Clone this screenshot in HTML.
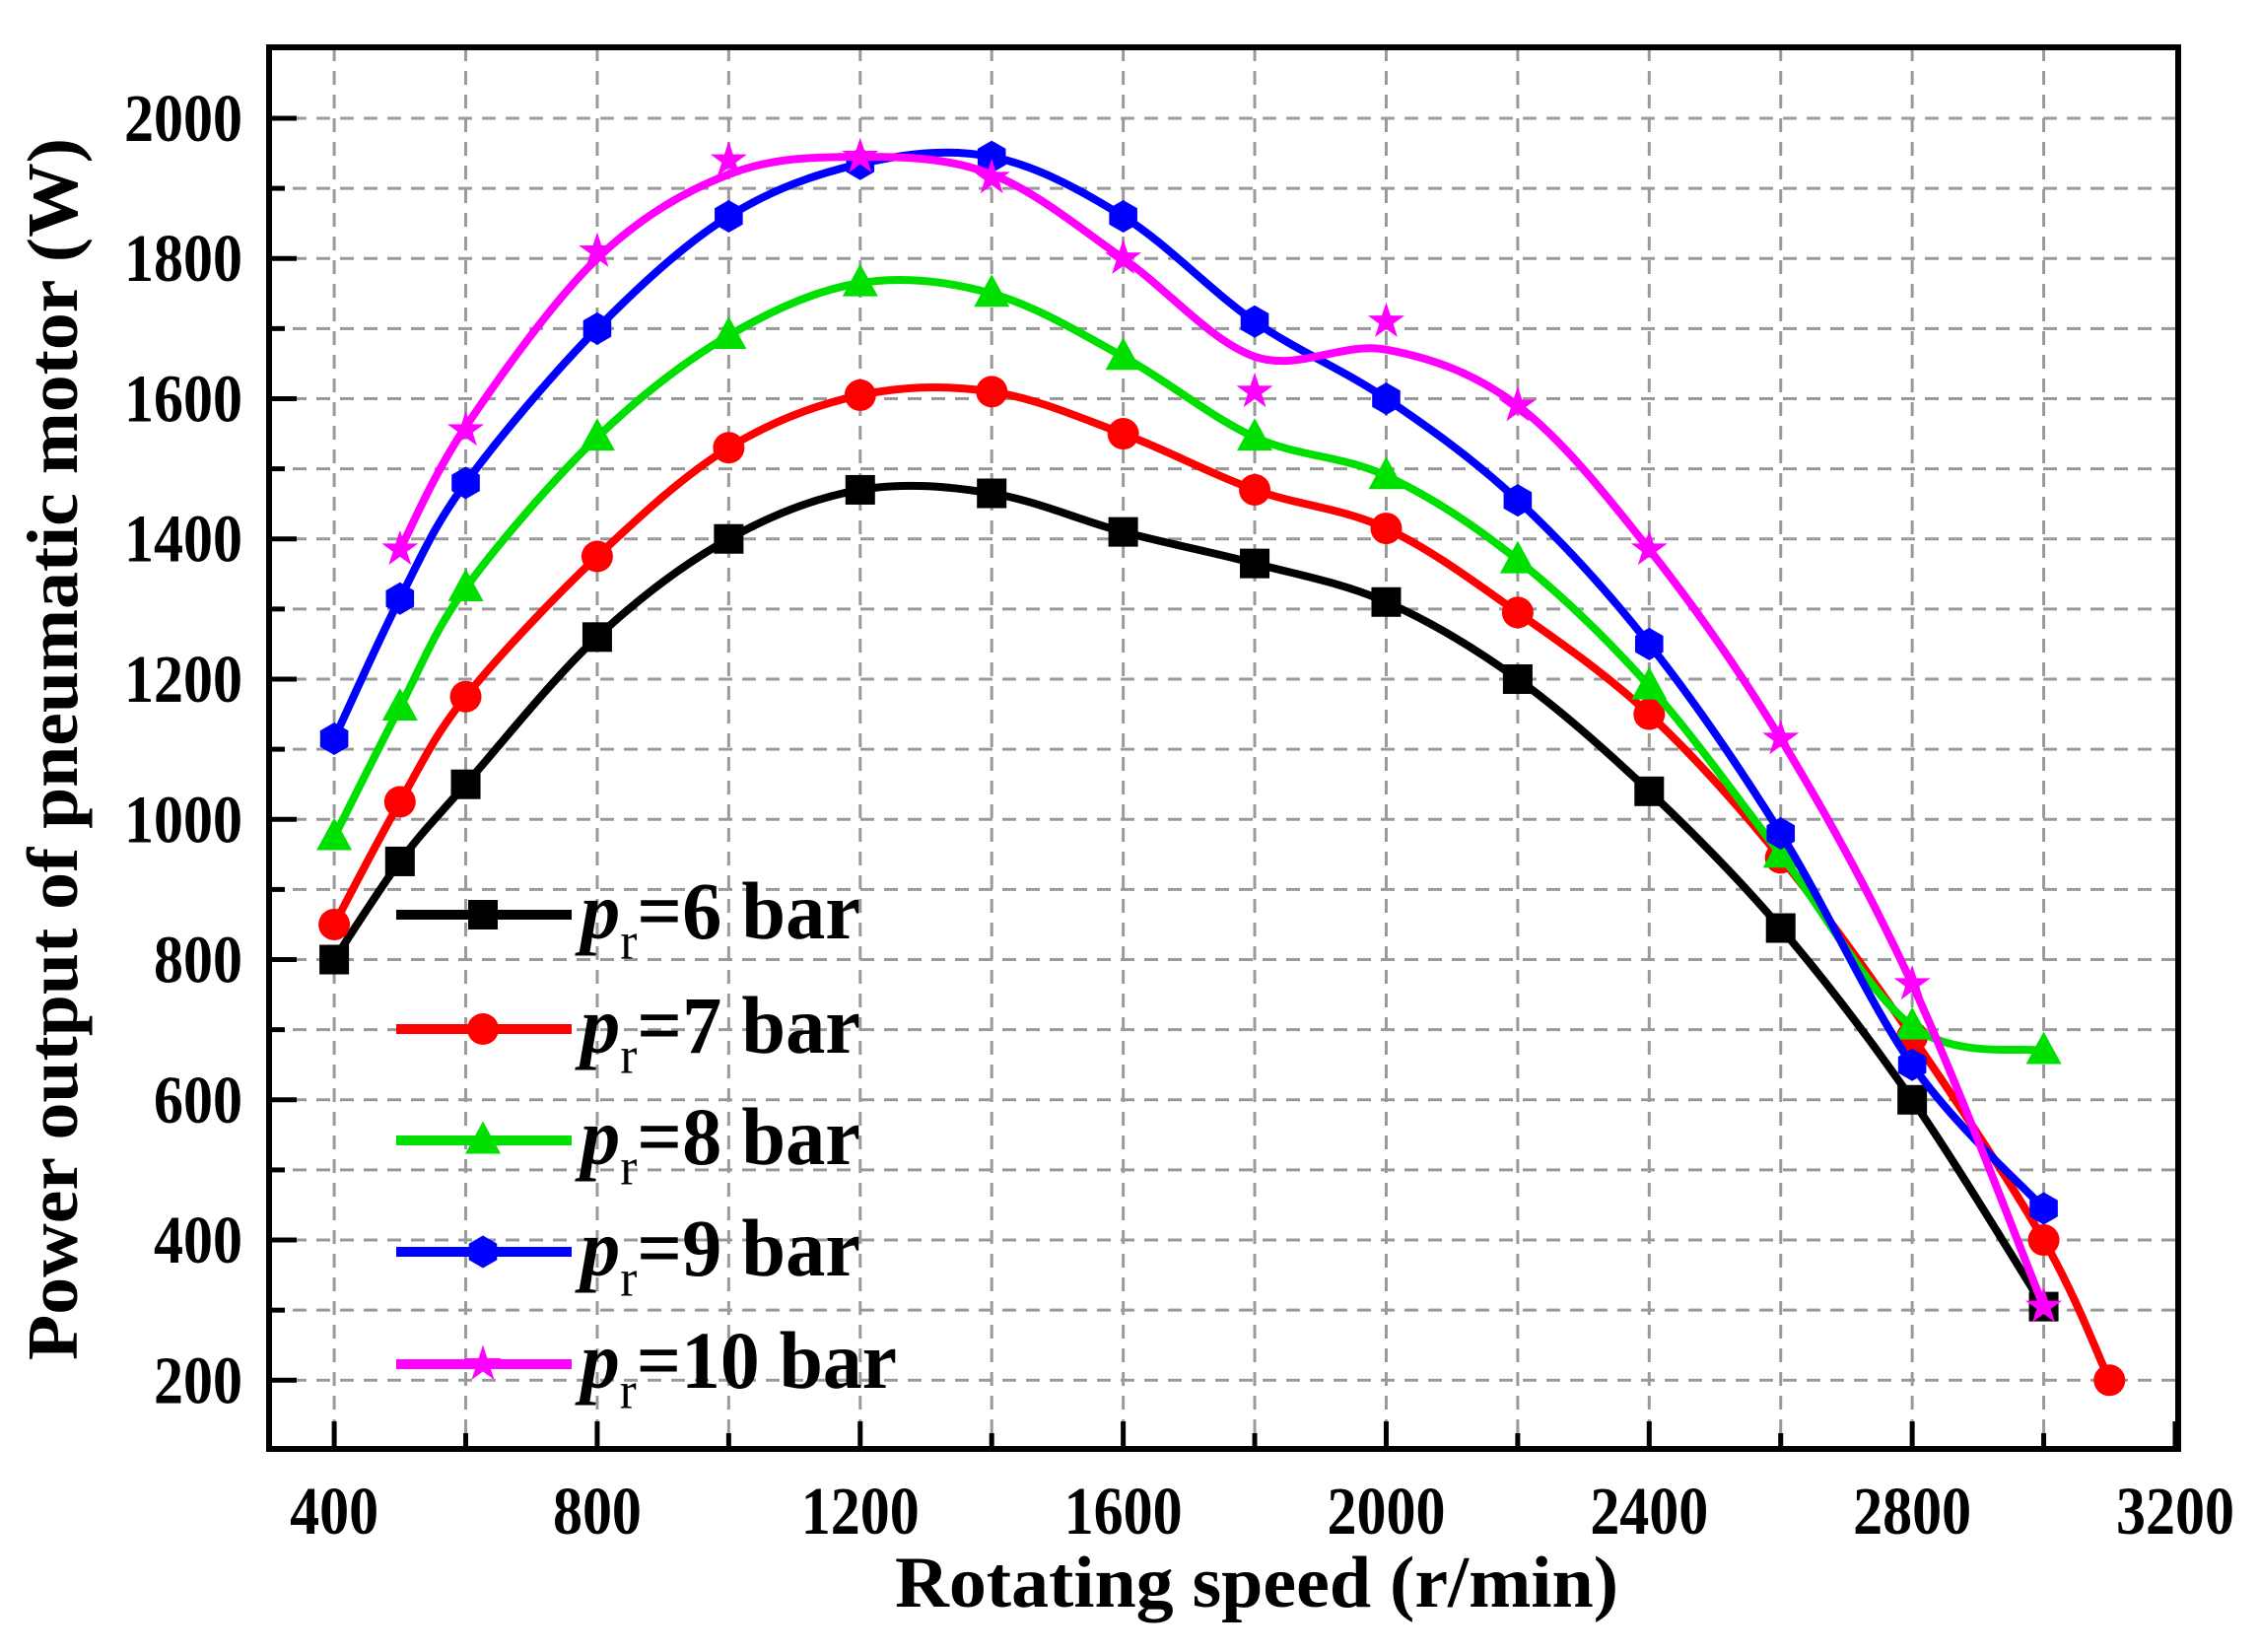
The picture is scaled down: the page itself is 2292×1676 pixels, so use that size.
<!DOCTYPE html>
<html><head><meta charset="utf-8">
<style>html,body{margin:0;padding:0;background:#fff;}svg{display:block;}</style>
</head><body>
<svg id="s" xmlns="http://www.w3.org/2000/svg" width="2292" height="1676" viewBox="0 0 2292 1676" font-family="'Liberation Serif', serif" font-weight="bold">
<rect width="2292" height="1676" fill="#fff"/>
<g id="grid"></g>
<g id="curves"></g>
<g id="ticks"></g>
<rect x="273" y="48" width="1937" height="1422" fill="none" stroke="#000" stroke-width="6"/>
<g id="labels" font-size="60"></g>
<text x="0" y="0" font-size="66" text-anchor="middle" transform="translate(1275,1630) scale(1,1.12)" textLength="734" lengthAdjust="spacingAndGlyphs">Rotating speed (r/min)</text>
<text x="0" y="0" font-size="66" text-anchor="middle" transform="translate(78,760) rotate(-90) scale(1,1.1)" textLength="1240" lengthAdjust="spacingAndGlyphs">Power output of pneumatic motor (W)</text>
<g id="legend"></g>
</svg>
<script>
var NS="http://www.w3.org/2000/svg";
function X(v){return 339.1+(v-400)*0.6671;}
function Y(v){return 1400.3-(v-200)*0.7113;}
function el(p,t,a,txt){var e=document.createElementNS(NS,t);for(var k in a)e.setAttribute(k,a[k]);if(txt!==undefined)e.textContent=txt;document.getElementById(p).appendChild(e);return e;}
// grid
for(var v=400;v<=3000;v+=200){el('grid','line',{x1:X(v),x2:X(v),y1:48,y2:1470,stroke:'#9a9a9a','stroke-width':3,'stroke-dasharray':'14 10'});}
for(var v=200;v<=2000;v+=100){el('grid','line',{x1:273,x2:2210,y1:Y(v),y2:Y(v),stroke:'#9a9a9a','stroke-width':3,'stroke-dasharray':'14 10'});}
// ticks
for(var v=400;v<=3200;v+=200){var L=(v%400==0)?28:16;el('ticks','line',{x1:X(v),x2:X(v),y1:1470,y2:1470-L,stroke:'#000','stroke-width':5});}
for(var v=200;v<=2000;v+=100){var L=(v%200==0)?28:16;el('ticks','line',{x1:273,x2:273+L,y1:Y(v),y2:Y(v),stroke:'#000','stroke-width':5});}
// labels
for(var v=400;v<=3200;v+=400){el('labels','text',{x:0,y:0,'text-anchor':'middle',transform:'translate('+X(v)+',1556) scale(1,1.15)'},String(v));}
for(var v=200;v<=2000;v+=200){el('labels','text',{x:0,y:0,'text-anchor':'end',transform:'translate(246,'+(Y(v)+23)+') scale(1,1.15)'},String(v));}
// data
var S=[
{c:'#000',m:'sq',pts:[[400,800],[500,940],[600,1050],[800,1260],[1000,1400],[1200,1470],[1400,1465],[1600,1410],[1800,1365],[2000,1310],[2200,1200],[2400,1040],[2600,845],[2800,600],[3000,305]]},
{c:'#ff0000',m:'ci',pts:[[400,850],[500,1025],[600,1175],[800,1375],[1000,1530],[1200,1605],[1400,1610],[1600,1550],[1800,1470],[2000,1415],[2200,1295],[2400,1150],[2600,945],[2800,690],[3000,400],[3100,200]]},
{c:'#00e000',m:'tr',pts:[[400,975],[500,1160],[600,1330],[800,1545],[1000,1690],[1200,1765],[1400,1750],[1600,1660],[1800,1545],[2000,1490],[2200,1370],[2400,1190],[2600,950],[2800,705],[3000,670]]},
{c:'#0000ff',m:'hx',pts:[[400,1115],[500,1315],[600,1480],[800,1700],[1000,1860],[1200,1935],[1400,1945],[1600,1860],[1800,1710],[2000,1600],[2200,1455],[2400,1250],[2600,980],[2800,650],[3000,445]]},
{c:'#ff00ff',m:'st',pts:[[500,1385],[600,1555],[800,1810],[1000,1940],[1200,1945],[1400,1915],[1600,1800],[1800,1610],[2000,1710],[2200,1590],[2400,1385],[2600,1115],[2800,765],[3000,305]],
 line:[[500,1385],[600,1560],[800,1800],[1000,1920],[1200,1945],[1400,1920],[1600,1800],[1800,1660],[2000,1670],[2200,1590],[2400,1385],[2600,1115],[2800,765],[3000,305]]}
];
function cr(p){var d='M'+p[0][0]+','+p[0][1];for(var i=0;i<p.length-1;i++){var p0=p[i-1]||p[i],p1=p[i],p2=p[i+1],p3=p[i+2]||p2;var t=6;d+=' C'+(p1[0]+(p2[0]-p0[0])/t)+','+(p1[1]+(p2[1]-p0[1])/t)+' '+(p2[0]-(p3[0]-p1[0])/t)+','+(p2[1]-(p3[1]-p1[1])/t)+' '+p2[0]+','+p2[1];}return d;}
function mk(g,type,x,y,c,r){
 if(type=='sq')el(g,'rect',{x:x-r,y:y-r,width:2*r,height:2*r,fill:c});
 else if(type=='ci')el(g,'circle',{cx:x,cy:y,r:r+1,fill:c});
 else if(type=='tr')el(g,'polygon',{points:(x)+','+(y-r*1.3)+' '+(x+r*1.2)+','+(y+r*0.9)+' '+(x-r*1.2)+','+(y+r*0.9),fill:c});
 else if(type=='hx'){var p=[];for(var k=0;k<6;k++){var a=Math.PI/6+k*Math.PI/3;p.push((x+r*1.1*Math.cos(a))+','+(y+r*1.1*Math.sin(a)));}el(g,'polygon',{points:p.join(' '),fill:c});}
 else {var p=[];for(var k=0;k<10;k++){var a=-Math.PI/2+k*Math.PI/5;var rr=(k%2?r*0.5:r*1.3);p.push((x+rr*Math.cos(a))+','+(y+rr*Math.sin(a)));}el(g,'polygon',{points:p.join(' '),fill:c});}
}
S.forEach(function(s){var lp=(s.line||s.pts).map(function(q){return [X(q[0]),Y(q[1])];});
 el('curves','path',{d:cr(lp),fill:'none',stroke:s.c,'stroke-width':8,'stroke-linejoin':'round'});
 s.pts.forEach(function(q){mk('curves',s.m,X(q[0]),Y(q[1]),s.c,15);});
});
// legend
var ly=[928,1044,1157,1270,1384],lab=['6','7','8','9','10'],tl=[284,284,284,284,321];
S.forEach(function(s,i){
 el('legend','line',{x1:402,x2:580,y1:ly[i],y2:ly[i],stroke:s.c,'stroke-width':10});
 mk('legend',s.m,490,ly[i],s.c,15);
 var t=el('legend','text',{x:0,y:0,'font-size':72,transform:'translate(589,'+(ly[i]+24)+') scale(1,1.15)',textLength:tl[i],lengthAdjust:'spacingAndGlyphs'});
 var a=document.createElementNS(NS,'tspan');a.setAttribute('font-style','italic');a.textContent='p';t.appendChild(a);
 var b=document.createElementNS(NS,'tspan');b.setAttribute('font-size','46');b.setAttribute('dy','18');b.setAttribute('font-weight','normal');b.textContent='r';t.appendChild(b);
 var c=document.createElementNS(NS,'tspan');c.setAttribute('dy','-18');c.textContent='='+lab[i]+' bar';t.appendChild(c);
});
</script>
</body></html>
